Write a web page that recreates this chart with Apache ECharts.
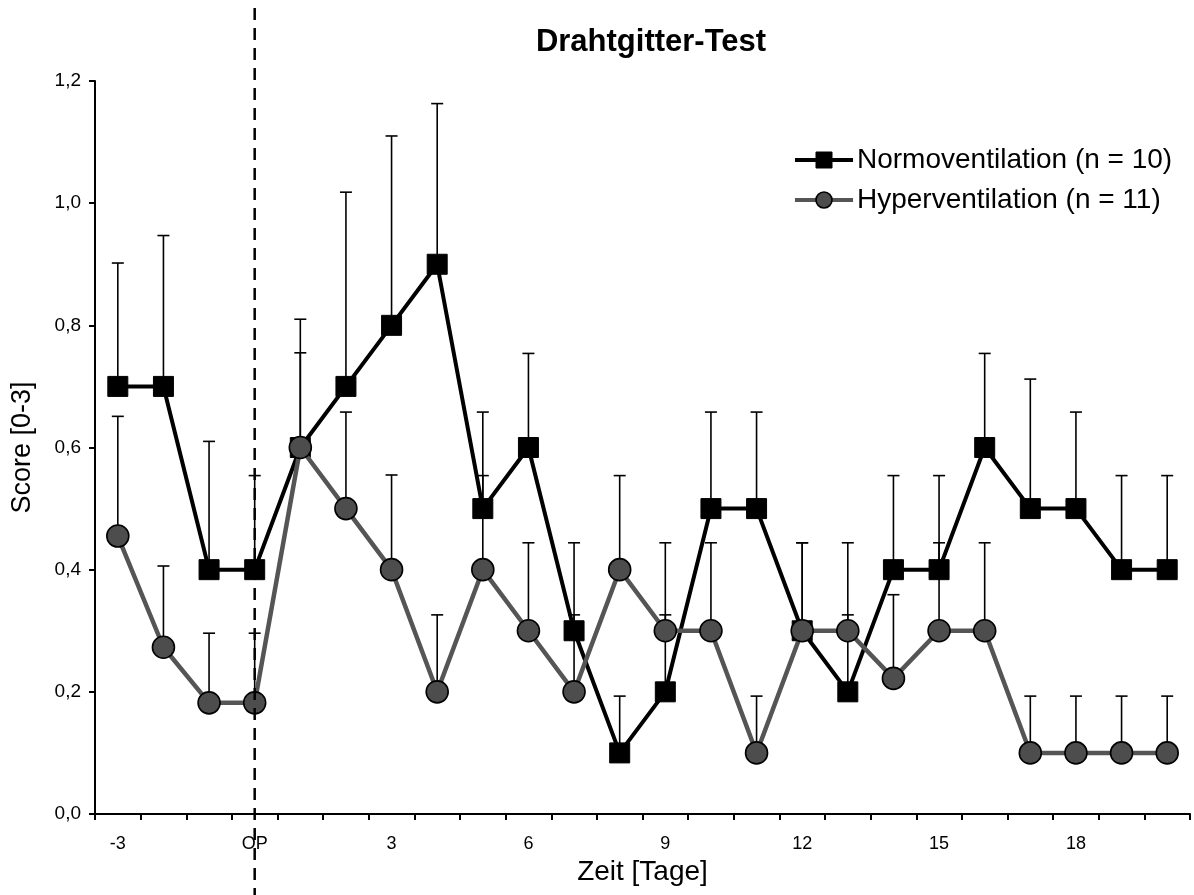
<!DOCTYPE html>
<html>
<head>
<meta charset="utf-8">
<title>Drahtgitter-Test</title>
<script src="https://cdn.jsdelivr.net/npm/echarts@6/dist/echarts.min.js"></script>
<style>
  html, body { margin: 0; padding: 0; background: #fff; }
  #chart { width: 1194px; height: 895px; }
</style>
</head>
<body>
<div id="chart"></div>
<script>
// Days relative to the operation (OP)
const days = ['-3','-2','-1','OP','1','2','3','4','5','6','7','8','9','10','11','12','13','14','15','16','17','18','19','20'];

// Mean scores per group
const normoMean = [0.7,0.7,0.4,0.4,0.6,0.7,0.8,0.9,0.5,0.6,0.3,0.1,0.2,0.5,0.5,0.3,0.2,0.4,0.4,0.6,0.5,0.5,0.4,0.4];
const hyperMean = [0.455,0.273,0.182,0.182,0.6,0.5,0.4,0.2,0.4,0.3,0.2,0.4,0.3,0.3,0.1,0.3,0.3,0.222,0.3,0.3,0.1,0.1,0.1,0.1];

// Upper error (standard deviation) per group
const normoSD = [0.202,0.247,0.210,0.154,0.21,0.318,0.310,0.263,0.158,0.154,0.144,0.093,0.126,0.158,0.158,0.144,0.126,0.154,0.154,0.154,0.212,0.158,0.154,0.154];
const hyperSD = [0.196,0.133,0.114,0.114,0.155,0.158,0.155,0.126,0.154,0.144,0.126,0.154,0.144,0.144,0.093,0.144,0.144,0.137,0.144,0.144,0.093,0.093,0.093,0.093];

const normoName = 'Normoventilation (n = 10)';
const hyperName = 'Hyperventilation (n = 11)';
const opDay = 'OP';

const FONT = '"Liberation Sans", Arial, sans-serif';

function errData(mean, sd) {
  return mean.map((m, i) => [i, m, m + sd[i]]);
}

// Upward whisker with a cap
function renderErr(params, api) {
  const i = api.value(0);
  const lo = api.coord([i, api.value(1)]);
  const hi = api.coord([i, api.value(2)]);
  const half = 6;
  const style = { stroke: '#000', lineWidth: 1.6 };
  return {
    type: 'group',
    children: [
      { type: 'line', shape: { x1: lo[0], y1: lo[1], x2: hi[0], y2: hi[1] }, style },
      { type: 'line', shape: { x1: hi[0] - half, y1: hi[1], x2: hi[0] + half, y2: hi[1] }, style }
    ]
  };
}

const chart = echarts.init(document.getElementById('chart'), null, { renderer: 'canvas' });

chart.setOption({
  animation: false,
  backgroundColor: '#fff',
  title: {
    text: 'Drahtgitter-Test',
    left: 646,
    textAlign: 'center',
    top: 22,
    textStyle: { fontFamily: FONT, fontSize: 31, fontWeight: 'bold', color: '#000' }
  },
  legend: {
    orient: 'vertical',
    left: 793,
    top: 146,
    padding: 0,
    itemWidth: 58,
    itemHeight: 20,
    itemGap: 12,
    lineStyle: { width: 4 },
    textStyle: { fontFamily: FONT, fontSize: 28, color: '#000', padding: [0, 0, 0, -1] },
    data: [
      { name: normoName, itemStyle: { borderWidth: 1 } },
      { name: hyperName, itemStyle: { borderWidth: 1.6 } }
    ]
  },
  grid: { left: 95, right: 4, top: 81, bottom: 81, containLabel: false, outerBoundsMode: 'none' },
  xAxis: {
    type: 'category',
    data: days,
    boundaryGap: true,
    name: 'Zeit [Tage]',
    nameLocation: 'middle',
    nameGap: 44,
    nameTextStyle: { fontFamily: FONT, fontSize: 28, color: '#000' },
    axisLine: { lineStyle: { color: '#000', width: 2 } },
    axisTick: { show: true, interval: 0, length: 6, lineStyle: { color: '#000', width: 2 } },
    axisLabel: { interval: 2, margin: 21, fontFamily: FONT, fontSize: 18, color: '#000' },
    splitLine: { show: false }
  },
  yAxis: {
    type: 'value',
    min: 0,
    max: 1.2,
    interval: 0.2,
    name: 'Score [0-3]',
    nameLocation: 'middle',
    nameGap: 59,
    nameTextStyle: { fontFamily: FONT, fontSize: 27, color: '#000' },
    axisLine: { show: true, lineStyle: { color: '#000', width: 2 } },
    axisTick: { show: true, length: 6, lineStyle: { color: '#000', width: 2 } },
    axisLabel: {
      margin: 14,
      fontFamily: FONT, fontSize: 19, color: '#000',
      formatter: v => v.toFixed(1).replace('.', ',')
    },
    splitLine: { show: false }
  },
  series: [
    {
      type: 'custom',
      name: 'normoErr',
      renderItem: renderErr,
      data: errData(normoMean, normoSD),
      encode: { x: 0, y: [1, 2] },
      z: 1,
      silent: true
    },
    {
      type: 'custom',
      name: 'hyperErr',
      renderItem: renderErr,
      data: errData(hyperMean, hyperSD),
      encode: { x: 0, y: [1, 2] },
      z: 1,
      silent: true
    },
    {
      name: normoName,
      type: 'line',
      data: normoMean,
      symbol: 'rect',
      symbolSize: 20,
      showAllSymbol: true,
      lineStyle: { color: '#000', width: 4 },
      itemStyle: { color: '#000', borderColor: '#000', borderWidth: 1 },
      z: 3
    },
    {
      name: hyperName,
      type: 'line',
      data: hyperMean,
      symbol: 'circle',
      symbolSize: 22,
      showAllSymbol: true,
      lineStyle: { color: '#555555', width: 4.5 },
      itemStyle: { color: '#4d4d4d', borderColor: '#000', borderWidth: 1.6 },
      z: 4
    }
  ]
});

// Dashed marker for the day of the operation, spanning the full height
const xOp = chart.convertToPixel({ xAxisIndex: 0 }, opDay);
chart.setOption({
  graphic: [{
    type: 'line',
    z: 100,
    shape: { x1: xOp, y1: 8, x2: xOp, y2: 895 },
    style: { stroke: '#000', lineWidth: 2.5, lineDash: [12, 8] },
    silent: true
  }]
});
</script>
</body>
</html>
